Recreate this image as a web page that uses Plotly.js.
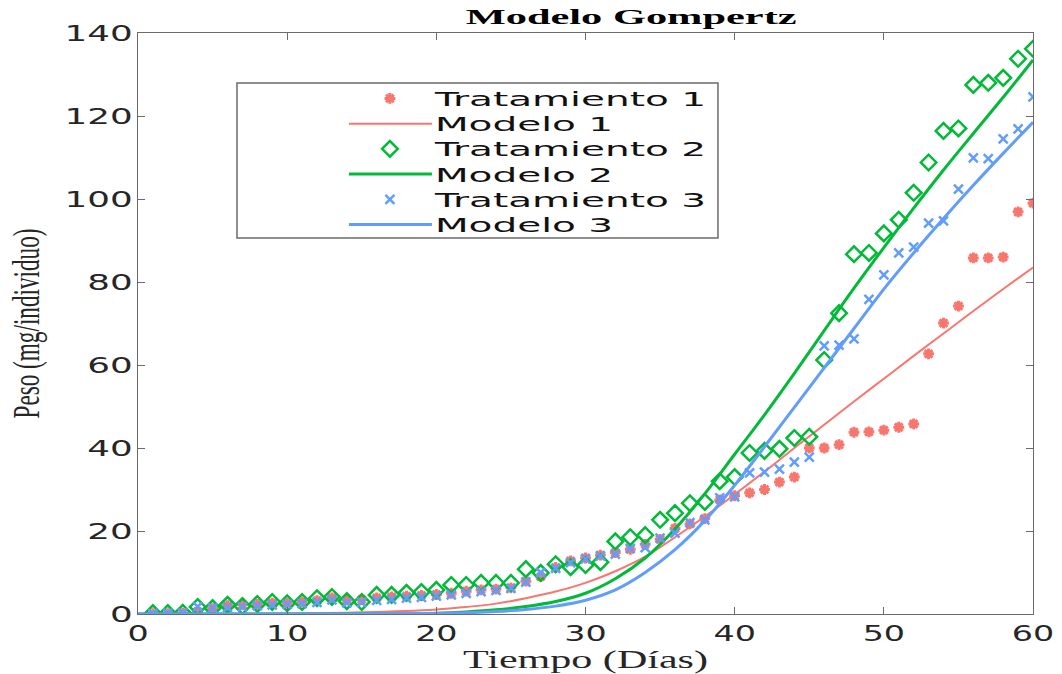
<!DOCTYPE html>
<html>
<head>
<meta charset="utf-8">
<script src="https://cdn.plot.ly/plotly-3.0.1.min.js"></script>
<style>
html,body{margin:0;padding:0;background:#fff;}
#chart{width:1062px;height:674px;}
</style>
</head>
<body>
<div id="chart"></div>
<script>
// ---- data ----
var days = [1,2,3,4,5,6,7,8,9,10,11,12,13,14,15,16,17,18,19,20,21,22,23,24,25,26,27,28,29,30,
            31,32,33,34,35,36,37,38,39,40,41,42,43,44,45,46,47,48,49,50,51,52,53,54,55,56,57,58,59,60];
var trat1 = [0.1,0.1,0.2,0.6,1.3,2.0,2.2,2.3,2.6,2.6,2.9,3.2,3.9,3.4,3.5,3.9,4.1,4.3,4.5,4.7,
             5.0,5.5,5.8,6.0,6.3,7.9,9.0,11.2,12.8,13.5,14.2,14.8,15.6,16.8,18.0,20.6,21.7,23.0,27.5,28.5,
             29.2,30.0,31.8,33.0,40.0,40.0,40.8,43.8,43.9,44.3,45.0,45.8,62.7,70.1,74.2,85.8,85.8,86.0,96.9,99.0];
var trat2 = [0.2,0.2,0.3,1.7,1.4,2.2,1.9,2.4,2.9,2.6,2.9,3.8,4.1,3.1,2.9,4.6,4.6,5.1,5.3,5.8,
             7.0,7.0,7.5,7.5,7.5,10.8,9.9,12.0,11.3,11.8,12.5,17.5,18.5,19.0,22.7,24.3,26.7,27.0,32.0,33.0,
             38.8,39.3,39.8,42.4,42.7,61.2,72.5,86.7,87.0,91.7,95.0,101.5,108.8,116.4,117.0,127.5,128.0,129.2,133.8,136.2];
var trat3 = [0.1,0.2,0.3,1.8,1.5,1.6,1.7,2.0,2.2,2.3,2.5,2.8,3.4,2.7,2.8,3.3,3.5,3.8,4.0,4.3,
             4.6,5.0,5.4,5.7,6.2,7.7,10.0,11.0,12.4,13.3,14.0,14.4,15.8,16.0,18.3,19.5,22.0,22.7,28.0,28.2,
             34.0,34.2,34.9,36.6,37.8,64.6,64.8,66.3,75.8,81.7,87.0,88.4,94.2,94.7,102.4,109.9,109.7,114.5,116.9,124.6];

var modelDays = [0,10,15,20,22,24,26,28,30,32,34,36,38,40,42,44,46,48,50,52,54,56,58,60];
var modelo1 = [0,0.1,0.4,1.1,1.7,2.5,3.8,5.4,7.5,10.3,13.8,18.5,23.5,28.8,34.3,40.0,45.6,51.2,56.7,62.2,67.6,73.0,78.3,83.5];
var modelo2 = [0,0,0.05,0.2,0.5,1.0,1.8,3.0,5.0,8.5,13.5,20.5,29.0,38.5,48.0,58.0,68.3,78.5,88.3,97.8,107.0,115.8,124.5,133.5];
var modelo3 = [0,0,0.05,0.15,0.3,0.6,1.1,1.9,3.3,5.8,10.0,15.5,22.5,31.0,40.3,49.8,59.3,68.8,78.3,87.0,95.3,103.3,111.0,118.5];

var xTicks = [0,10,20,30,40,50,60];
var yTicks = [0,20,40,60,80,100,120,140];
var names = ['Tratamiento 1','Modelo 1','Tratamiento 2','Modelo 2','Tratamiento 3','Modelo 3'];

var cRed = '#F8766D', cGreen = '#00BA38', cBlue = '#619CFF';

var traces = [
  {x: days, y: trat1, name: names[0], mode: 'markers', type: 'scatter',
   marker: {symbol: 'asterisk-open', size: 9, color: cRed, line: {color: cRed, width: 3}}},
  {x: modelDays, y: modelo1, name: names[1], mode: 'lines', type: 'scatter',
   line: {color: cRed, width: 2, shape: 'spline'}},
  {x: days, y: trat2, name: names[2], mode: 'markers', type: 'scatter',
   marker: {symbol: 'diamond-open', size: 12, color: cGreen, line: {color: cGreen, width: 2.5}}},
  {x: modelDays, y: modelo2, name: names[3], mode: 'lines', type: 'scatter',
   line: {color: cGreen, width: 3, shape: 'spline'}},
  {x: days, y: trat3, name: names[4], mode: 'markers', type: 'scatter',
   marker: {symbol: 'x-thin-open', size: 9, color: cBlue, line: {color: cBlue, width: 2.5}}},
  {x: modelDays, y: modelo3, name: names[5], mode: 'lines', type: 'scatter',
   line: {color: cBlue, width: 3, shape: 'spline'}}
];

var axisCommon = {
  showline: true, linecolor: '#6b6b6b', linewidth: 1, mirror: 'ticks',
  ticks: 'inside', ticklen: 7, tickcolor: '#6b6b6b', tickwidth: 1,
  showgrid: false, zeroline: false,
  tickfont: {family: 'DejaVu Sans', size: 21.5, color: '#262626'}
};

var layout = {
  width: 1062, height: 674,
  margin: {l: 138, r: 29, t: 33, b: 60},
  paper_bgcolor: '#ffffff', plot_bgcolor: '#ffffff',
  showlegend: true,
  title: {text: '<b>Modelo Gompertz</b>', font: {family: 'Liberation Serif', size: 21, color: '#000'},
          x: 0.551, xanchor: 'center', xref: 'paper', y: 0.975, yanchor: 'middle', yref: 'container'},
  xaxis: Object.assign({}, axisCommon, {
    range: [0, 60], tickvals: xTicks, ticktext: xTicks.map(String),
    title: {text: 'Tiempo (Días)', font: {family: 'Liberation Serif', size: 25, color: '#262626'}, standoff: 2}
  }),
  yaxis: Object.assign({}, axisCommon, {
    range: [0, 140], tickvals: yTicks, ticktext: yTicks.map(String),
    title: {text: 'Peso (mg/individuo)', font: {family: 'Liberation Serif', size: 37, color: '#262626'}, standoff: 40}
  }),
  legend: {
    x: 0.22, xanchor: 'left', y: 0.91, yanchor: 'top',
    bgcolor: 'rgba(0,0,0,0)', borderwidth: 0,
    font: {family: 'DejaVu Sans', size: 19.5, color: '#111'},
    itemwidth: 90, tracegroupgap: 0
  },
  shapes: [
    {type: 'rect', xref: 'paper', yref: 'paper', x0: 0.1106, x1: 0.648, y0: 0.647, y1: 0.914,
     line: {color: '#6b6b6b', width: 1.5}, fillcolor: 'rgba(0,0,0,0)', layer: 'above'}
  ]
};

function stretch(nodes, f) {
  nodes.forEach(function (n) {
    var w = n.getComputedTextLength();
    if (w > 0) {
      n.setAttribute('textLength', (w * f).toFixed(1));
      n.setAttribute('lengthAdjust', 'spacingAndGlyphs');
    }
  });
}
function setWidth(n, target) {
  if (!n) return;
  n.setAttribute('textLength', target);
  n.setAttribute('lengthAdjust', 'spacingAndGlyphs');
}
function parseT(s) {
  var m = /translate\(\s*([-\d.e]+)[ ,]+([-\d.e]+)\s*\)/.exec(s || '');
  return m ? [parseFloat(m[1]), parseFloat(m[2])] : [0, 0];
}

Plotly.newPlot('chart', traces, layout, {displayModeBar: false, staticPlot: true}).then(function (gd) {
  stretch(gd.querySelectorAll('.xtick text'), 1.55);
  stretch(gd.querySelectorAll('.ytick text'), 1.66);
  setWidth(gd.querySelector('.gtitle'), 331);
  setWidth(gd.querySelector('.xtitle'), 245);
  setWidth(gd.querySelector('.ytitle'), 190);

  // legend: unclip, restyle symbol geometry and row spacing
  gd.querySelectorAll('.legend .scrollbox').forEach(function (n) { n.removeAttribute('clip-path'); });
  gd.querySelectorAll('.legend').forEach(function (n) { n.removeAttribute('clip-path'); });
  stretch(gd.querySelectorAll('.legendtext'), 2.0);
  var items = gd.querySelectorAll('.legend .traces');
  var first = null;
  items.forEach(function (g, i) {
    var t = parseT(g.getAttribute('transform'));
    if (first === null) first = t;
    g.setAttribute('transform', 'translate(' + t[0] + ',' + (first[1] - 6 + i * 25.2) + ')');
  });
  gd.querySelectorAll('.legend .legendlines path').forEach(function (p) {
    p.setAttribute('d', 'M14,0h83');
  });
  gd.querySelectorAll('.legend .legendpoints path.scatterpts').forEach(function (p) {
    p.setAttribute('transform', 'translate(55,0)');
  });
});
</script>
</body>
</html>
